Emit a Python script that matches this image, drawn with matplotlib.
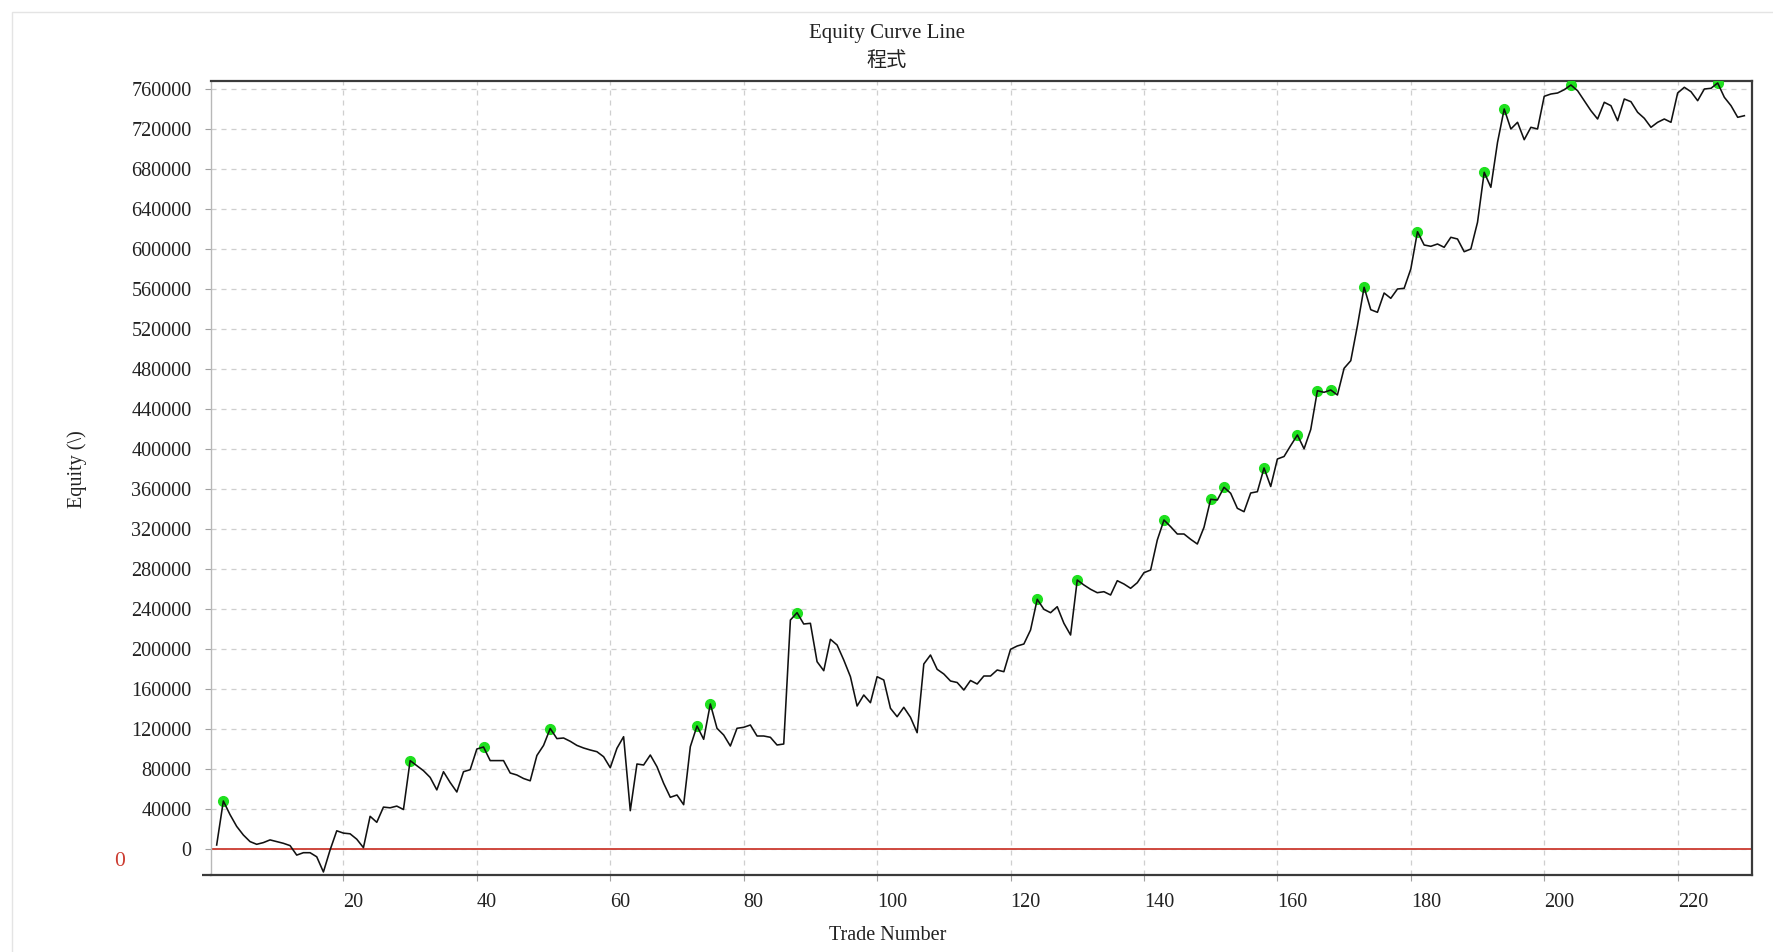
import matplotlib
matplotlib.use("Agg")
import matplotlib.pyplot as plt
import matplotlib.patches as mpatches
import matplotlib.transforms as mtransforms

# ---- data ----
equity = [
    4000, 48000, 34400, 22600, 14000, 7400, 4700, 6400, 9100, 7400,
    5700, 3400, -6100, -3700, -3700, -7800, -23000, -1000, 18200, 15900,
    15200, 9800, 1350, 32700, 26700, 41900, 41200, 42900, 39500, 88400,
    83400, 78300, 71600, 59100, 77300, 66500, 57000, 77300, 79300, 100000,
    102000, 88400, 88400, 88400, 76000, 74000, 70500, 68200, 93500, 103600,
    120500, 110400, 111000, 107700, 103600, 101000, 99000, 97300, 92300, 81300,
    100700, 112300, 38300, 85000, 84000, 94000, 82300, 65700, 51700, 54000,
    44300, 102300, 123000, 109700, 145000, 120700, 114000, 103000, 120700, 121700,
    124000, 113000, 113000, 111700, 104000, 105000, 229000, 236300, 225000, 225700,
    187300, 178300, 209700, 204000, 189000, 172300, 143000, 154000, 146300, 172300,
    169000, 140700, 132300, 141700, 131700, 116300, 185000, 194000, 179700, 175000,
    168000, 166500, 159000, 168500, 165000, 173000, 173000, 179000, 177300, 199700,
    203000, 205000, 219000, 249700, 239700, 236300, 242300, 225700, 214000, 269000,
    264000, 259700, 256300, 257300, 254000, 268300, 265000, 260700, 266300, 276300,
    279000, 309000, 329000, 322300, 315000, 315000, 309700, 305000, 321700, 349700,
    349000, 361700, 355700, 340700, 337300, 356000, 357300, 381000, 362500, 390000,
    392500, 403500, 414000, 400200, 419500, 458300, 456700, 459000, 454000, 480700,
    488300, 523300, 561700, 539300, 536700, 556000, 550700, 560000, 560700, 580000,
    617300, 604000, 602700, 605000, 601700, 611700, 610000, 597300, 600000, 626700,
    676700, 661700, 706700, 740000, 720000, 726700, 709300, 721700, 720000, 752700,
    755000, 756000, 759300, 764000, 758300, 748300, 738300, 730000, 746700, 743300,
    728300, 750000, 747300, 736700, 730700, 721700, 726700, 730000, 726700, 756000,
    761700, 757300, 748300, 760000, 760700, 766000, 751700, 743300, 731700, 733300,
]
trades = list(range(1, len(equity) + 1))

# trade numbers marked with green dots (new equity highs)
high_trades = [2, 30, 41, 51, 73, 75, 88, 124, 130, 143, 150, 152, 158, 163,
               166, 168, 173, 181, 191, 194, 204, 226]

x_ticks = list(range(20, 221, 20))
y_ticks = list(range(0, 760001, 40000))

title_en = "Equity Curve Line"
title_zh = "程式"
x_label = "Trade Number"
y_label = "Equity (\\)"
zero_label = "0"

# ---- figure ----
W, H = 1773, 952
fig = plt.figure(figsize=(W / 100, H / 100), dpi=100, facecolor="white")

serif = ["Liberation Serif", "DejaVu Serif"]
cjk = ["Noto Sans CJK TC", "DejaVu Sans"]
FS = 14.5

ax = fig.add_axes([211 / W, 1 - 875 / H, (1751.7 - 211) / W, (875 - 81) / H])
ax.set_facecolor("white")

ax.set_xlim(0.15, 231.1)
ax.set_ylim(-26000, 768000)

ax.set_xticks(x_ticks)
ax.set_yticks(y_ticks)
ax.set_xticklabels([str(v) for v in x_ticks], fontfamily=serif, fontsize=FS)
ax.set_yticklabels([str(v) for v in y_ticks], fontfamily=serif, fontsize=FS)
for lab in ax.get_xticklabels():
    lab.set_horizontalalignment("left")
shift = mtransforms.ScaledTranslation(0, -3.5 / 100, fig.dpi_scale_trans)
for lab in ax.get_yticklabels():
    lab.set_transform(lab.get_transform() + shift)

ax.tick_params(axis="x", direction="out", length=4, width=0.8, color="#a0a0a0",
               pad=9, labelcolor="#222222")
ax.tick_params(axis="y", direction="out", length=4, width=0.8, color="#a0a0a0",
               pad=10, labelcolor="#222222")

ax.grid(True, which="major", color="#cfcfcf", linestyle=(0, (4, 4)), linewidth=0.9)
ax.set_axisbelow(True)

for side in ["top", "right", "bottom"]:
    ax.spines[side].set_color("#3a3a3a")
    ax.spines[side].set_linewidth(1.6)
ax.spines["left"].set_color("#b8b8b8")
ax.spines["left"].set_linewidth(1.0)

# extend bottom axis line slightly to the left like the reference
ax.plot([-0.006, 0], [0, 0], transform=ax.transAxes, color="#3a3a3a",
        lw=1.6, clip_on=False, solid_capstyle="butt")

# zero marker line
ax.axhline(0, color="#cc3b30", lw=1.3, zorder=2)

# equity curve
hx = [t for t in high_trades]
hy = [equity[t - 1] for t in high_trades]
ax.plot(hx, hy, linestyle="none", marker="o", markersize=7,
        markerfacecolor="#1ee01e", markeredgecolor="#1ee01e", zorder=3)
ax.plot(trades, equity, color="#111111", lw=1.15, zorder=4)

# titles and labels
fig.text(887 / W, 1 - 33.5 / H, title_en, ha="center", va="center",
         fontfamily=serif, fontsize=15, color="#222222")
fig.text(887 / W, 1 - 61 / H, title_zh, ha="center", va="center",
         fontfamily=cjk, fontsize=14.5, color="#222222")
fig.text(887.6 / W, 1 - 936 / H, x_label, ha="center", va="center",
         fontfamily=serif, fontsize=FS, color="#222222")
fig.text(77 / W, 1 - 469 / H, y_label, ha="center", va="center", rotation=90,
         fontfamily=serif, fontsize=FS, color="#222222")
fig.text(120 / W, 1 - 862 / H, zero_label, ha="center", va="center",
         fontfamily=serif, fontsize=FS + 1, color="#cc3b30")

# light outer frame
fig.patches.append(mpatches.Rectangle((12 / W, -0.05), 1.2, (H - 12) / H + 0.05,
                                      transform=fig.transFigure, fill=False,
                                      edgecolor="#e4e4e4", lw=1.0))

fig.savefig("out.png", dpi=100, facecolor="white")
